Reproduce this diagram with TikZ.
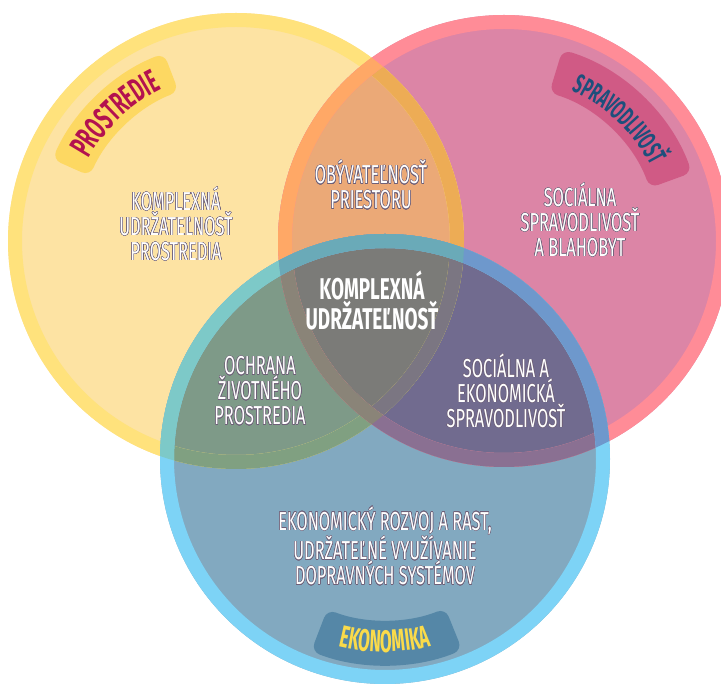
\documentclass[tikz,border=0pt]{standalone}
\usepackage{fontspec}
\setmainfont{Fira Sans}[FakeStretch=0.63]
\newfontfamily\badgefont{Fira Sans}[FakeStretch=0.55]
\usepackage{contour}
\usetikzlibrary{calc,decorations.text}

% fills of the seven regions
\definecolor{yfill}{HTML}{FDE3A3}
\definecolor{pfill}{HTML}{DC85A6}
\definecolor{bfill}{HTML}{82A9C0}
\definecolor{ypfill}{HTML}{EBA977}
\definecolor{ybfill}{HTML}{7E9A88}
\definecolor{pbfill}{HTML}{716B8F}
\definecolor{allfill}{HTML}{7B7B78}
% rings, and the rings where they run over another circle
\definecolor{yring}{HTML}{FFE27C}
\definecolor{yinp}{HTML}{EDAC55}
\definecolor{yinb}{HTML}{80A081}
\definecolor{yinpb}{HTML}{7B7682}
\definecolor{pring}{HTML}{FF8C97}
\definecolor{piny}{HTML}{FFA866}
\definecolor{pinb}{HTML}{8A7092}
\definecolor{pinyb}{HTML}{8A8478}
\definecolor{bring}{HTML}{7DD3F6}
\definecolor{biny}{HTML}{7DC9C8}
\definecolor{binp}{HTML}{6E98CC}
\definecolor{binyp}{HTML}{6AAAB8}
% badges
\definecolor{ybadge}{HTML}{FDD862}
\definecolor{ytext}{HTML}{B3124F}
\definecolor{pbadge}{HTML}{D05A85}
\definecolor{ptext}{HTML}{1D4F7C}
\definecolor{bbadge}{HTML}{5587A7}
\definecolor{btext}{HTML}{FBDB4A}
% edge of the white lettering
\definecolor{edge}{HTML}{6E6078}

\contourlength{0.45pt}
\contournumber{16}
\newcommand{\wt}[1]{\contour{edge}{#1}}

\tikzset{
  ring/.style={line width=14pt},
  badge/.style={rounded corners=9pt},
  region/.style={align=center, text=white, inner sep=0pt,
    font=\fontsize{26}{25}\selectfont},
  core/.style={align=center, text=white, inner sep=0pt,
    font=\fontsize{30}{30}\selectfont\bfseries},
}

% ring of circle #1 (radius #2) in colour #3, cut by the clips in #4
\newcommand{\ringpart}[4]{\begin{scope}#4\draw[ring,#3] (#1) circle (#2);\end{scope}}

\begin{document}
\begin{tikzpicture}[x=1pt,y=1pt]
\useasboundingbox (0,0) rectangle (721,688);
\coordinate (Y) at (236,447);
\coordinate (P) at (504,447);
\coordinate (B) at (385,229);

% plain circles
\fill[yfill] (Y) circle (228);
\fill[pfill] (P) circle (226);
\fill[bfill] (B) circle (225);
% overlaps
\begin{scope}
  \clip (Y) circle (228);
  \fill[ypfill] (P) circle (226);
  \fill[ybfill] (B) circle (225);
\end{scope}
\begin{scope}
  \clip (P) circle (226);
  \fill[pbfill] (B) circle (225);
  \clip (Y) circle (228);
  \fill[allfill] (B) circle (225);
\end{scope}

% yellow ring
\ringpart{Y}{221}{yring}{}
\ringpart{Y}{221}{yinp}{\clip (P) circle (226);}
\ringpart{Y}{221}{yinb}{\clip (B) circle (225);}
\ringpart{Y}{221}{yinpb}{\clip (P) circle (226); \clip (B) circle (225);}
% pink ring
\ringpart{P}{219}{pring}{}
\ringpart{P}{219}{piny}{\clip (Y) circle (228);}
\ringpart{P}{219}{pinb}{\clip (B) circle (225);}
\ringpart{P}{219}{pinyb}{\clip (Y) circle (228); \clip (B) circle (225);}
% blue ring
\ringpart{B}{218}{bring}{}
\ringpart{B}{218}{biny}{\clip (Y) circle (228);}
\ringpart{B}{218}{binp}{\clip (P) circle (226);}
\ringpart{B}{218}{binyp}{\clip (Y) circle (228); \clip (P) circle (226);}

% PROSTREDIE badge
\fill[ybadge,badge] ($(Y)+(156:160)$) arc[start angle=156,end angle=111,radius=160]
  -- ($(Y)+(111:201)$) arc[start angle=111,end angle=156,radius=201] -- cycle;
\path[decorate,decoration={text along path,text align=center,
  text={|\fontsize{33}{33}\badgefont\bfseries\color{ytext}|PROSTREDIE}}]
  ($(Y)+(157:169)$) arc[start angle=157,end angle=110,radius=169];

% SPRAVODLIVOSŤ badge
\fill[pbadge,badge] ($(P)+(73:155)$) arc[start angle=73,end angle=20,radius=155]
  -- ($(P)+(20:200)$) arc[start angle=20,end angle=73,radius=200] -- cycle;
\path[decorate,decoration={text along path,text align=center,
  text={|\fontsize{27}{27}\badgefont\bfseries\color{ptext}|SPRAVODLIVOSŤ}}]
  ($(P)+(73:165)$) arc[start angle=73,end angle=20,radius=165];

% EKONOMIKA badge
\fill[bbadge,badge] ($(B)+(249:161)$) arc[start angle=249,end angle=292,radius=161]
  -- ($(B)+(292:206)$) arc[start angle=292,end angle=249,radius=206] -- cycle;
\path[decorate,decoration={text along path,text align=center,
  text={|\fontsize{31}{31}\badgefont\bfseries\color{btext}|EKONOMIKA}}]
  ($(B)+(247:193)$) arc[start angle=247,end angle=293,radius=193];

% region texts
\node[region] (env) at (176,464) {\wt{KOMPLEXNÁ}\\\wt{UDRŽATEĽNOSŤ}\\\wt{PROSTREDIA}};
\node[region] (live) at (371,503) {\wt{OBÝVATEĽNOSŤ}\\\wt{PRIESTORU}};
\node[region] (soc) at (580,468) {\wt{SOCIÁLNA}\\\wt{SPRAVODLIVOSŤ}\\\wt{A BLAHOBYT}};
\node[core] (all) at (372,388) {KOMPLEXNÁ\\UDRŽATEĽNOSŤ};
\node[region] (prot) at (260,297) {\wt{OCHRANA}\\\wt{ŽIVOTNÉHO}\\\wt{PROSTREDIA}};
\node[region] (socek) at (506,297) {\wt{SOCIÁLNA A}\\\wt{EKONOMICKÁ}\\\wt{SPRAVODLIVOSŤ}};
\node[region] (eco) at (385,142) {\wt{EKONOMICKÝ ROZVOJ A RAST,}\\\wt{UDRŽATEĽNÉ VYUŽÍVANIE}\\\wt{DOPRAVNÝCH SYSTÉMOV}};
\end{tikzpicture}
\end{document}
